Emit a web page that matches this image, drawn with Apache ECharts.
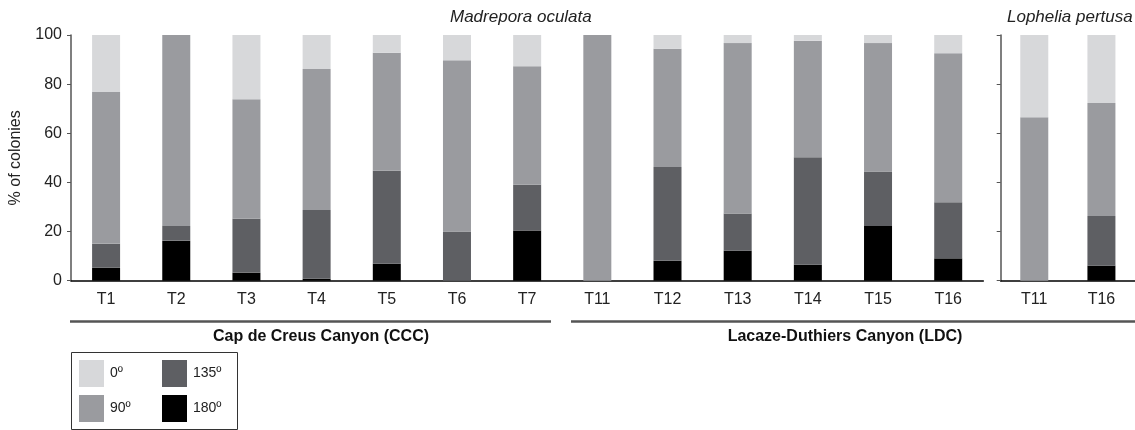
<!DOCTYPE html>
<html><head><meta charset="utf-8">
<script src="https://cdn.jsdelivr.net/npm/echarts@6/dist/echarts.min.js"></script>
<style>html,body{margin:0;padding:0;background:#fff}#c{width:1135px;height:430px}</style>
</head><body><div id="c"></div>
<script>
// Madrepora oculata transects
const catsMO = ['T1','T2','T3','T4','T5','T6','T7','T11','T12','T13','T14','T15','T16'];
const mo180 = [5.3, 16.3, 3.3, 0.8, 6.9, 0, 20.4, 0, 8.1, 12.2, 6.5, 22.3, 9.1];
const mo135 = [9.8, 6.0, 21.9, 28.0, 37.9, 20.0, 18.7, 0, 38.2, 15.1, 43.7, 22.1, 22.8];
const mo90  = [61.7, 77.7, 48.7, 57.4, 48.0, 69.7, 48.2, 100, 48.1, 69.4, 47.5, 52.3, 60.7];
const mo0   = [23.2, 0, 26.1, 13.8, 7.2, 10.3, 12.7, 0, 5.6, 3.3, 2.3, 3.3, 7.4];
// Lophelia pertusa transects
const catsLP = ['T11','T16'];
const lp180 = [0, 6.1];
const lp135 = [0, 20.2];
const lp90  = [66.5, 46.0];
const lp0   = [33.5, 27.7];
const yTicks = [0, 20, 40, 60, 80, 100];

const FONT = 'Liberation Sans';
const COLORS = {'0º':'#d7d8da','90º':'#9a9b9f','135º':'#5e5f63','180º':'#000000'};

function mk(name, data, gi, stack) {
  return {name, type:'bar', stack, xAxisIndex:gi, yAxisIndex:gi, data, barWidth:28,
    itemStyle:{color:COLORS[name]}, emphasis:{disabled:true}};
}
const axisX = (gi, data) => ({type:'category', gridIndex:gi, data,
  axisLine:{lineStyle:{color:'#000', width:1.5}},
  axisTick:{length:5, lineStyle:{color:'#000', width:1}},
  axisLabel:{fontFamily:FONT, fontSize:16, color:'#222', margin:11},
  splitLine:{show:false}});
const axisY = (gi, showLabels) => ({type:'value', gridIndex:gi, min:0, max:100, interval:20,
  axisLine:{show:true, lineStyle:{color:'#555', width:1.5}},
  axisTick:{show:true, length:4, lineStyle:{color:'#555', width:1}},
  axisLabel:{show:showLabels, fontFamily:FONT, fontSize:16, color:'#222', margin:9,
    formatter: v => yTicks.includes(v) ? String(v) : ''},
  splitLine:{show:false},
  name: showLabels ? '% of colonies' : '', nameLocation:'middle', nameGap:47,
  nameTextStyle:{fontFamily:FONT, fontSize:16, color:'#222'}});
const legendAt = (name, left, top) => ({data:[name], orient:'vertical', left, top,
  itemWidth:25, itemHeight:27, icon:'rect', selectedMode:false, padding:0,
  textStyle:{fontFamily:FONT, fontSize:14, color:'#222', padding:[0,0,0,1]}});

const chart = echarts.init(document.getElementById('c'));
chart.setOption({
  animation:false,
  backgroundColor:'#fff',
  textStyle:{fontFamily:FONT},
  grid:[
    {left:70.7, top:35, width:912.6, bottom:149.3},
    {left:1000.7, top:35, width:140.6, bottom:149.3}
  ],
  xAxis:[axisX(0, catsMO), axisX(1, catsLP)],
  yAxis:[axisY(0, true), axisY(1, false)],
  title:[
    {text:'Madrepora oculata', left:450, top:9, padding:0,
      textStyle:{fontFamily:FONT, fontStyle:'italic', fontWeight:'normal', fontSize:17, color:'#222'}},
    {text:'Lophelia pertusa', left:1007, top:9, padding:0,
      textStyle:{fontFamily:FONT, fontStyle:'italic', fontWeight:'normal', fontSize:17, color:'#222'}}
  ],
  legend:[
    legendAt('0º', 79, 360), legendAt('90º', 79, 395),
    legendAt('135º', 162, 360), legendAt('180º', 162, 395)
  ],
  graphic:[
    {type:'line', shape:{x1:70, y1:321.5, x2:551, y2:321.5}, style:{stroke:'#555', lineWidth:2.5}},
    {type:'line', shape:{x1:571, y1:321.5, x2:1140, y2:321.5}, style:{stroke:'#555', lineWidth:2.5}},
    {type:'text', x:321, y:337, style:{text:'Cap de Creus Canyon (CCC)', fontFamily:FONT, fontWeight:'bold', fontSize:16,
      fill:'#111', textAlign:'center', textVerticalAlign:'middle'}},
    {type:'text', x:845, y:337, style:{text:'Lacaze-Duthiers Canyon (LDC)', fontFamily:FONT, fontWeight:'bold', fontSize:16,
      fill:'#111', textAlign:'center', textVerticalAlign:'middle'}},
    {type:'rect', shape:{x:71.5, y:352.5, width:166, height:77}, style:{fill:'none', stroke:'#333', lineWidth:1}}
  ],
  series:[
    mk('180º', mo180, 0, 'mo'), mk('135º', mo135, 0, 'mo'), mk('90º', mo90, 0, 'mo'), mk('0º', mo0, 0, 'mo'),
    mk('180º', lp180, 1, 'lp'), mk('135º', lp135, 1, 'lp'), mk('90º', lp90, 1, 'lp'), mk('0º', lp0, 1, 'lp')
  ]
});
</script></body></html>
